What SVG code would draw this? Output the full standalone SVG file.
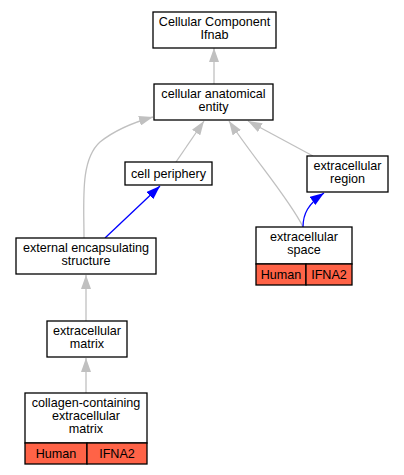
<svg xmlns="http://www.w3.org/2000/svg" width="404" height="475" viewBox="0 0 404 475">
<defs>
<marker id="ag" viewBox="0 0 14 10" refX="14" refY="5" markerWidth="14" markerHeight="10" markerUnits="userSpaceOnUse" orient="auto"><path d="M0,0 L14,5 L0,10 z" fill="#c0c0c0"/></marker>
<marker id="ab" viewBox="0 0 14 10" refX="14" refY="5" markerWidth="14" markerHeight="10" markerUnits="userSpaceOnUse" orient="auto"><path d="M0,0 L14,5 L0,10 z" fill="#0000ff"/></marker>
</defs>
<style>
.box{fill:#fff;stroke:#000;stroke-width:1.3}
.red{fill:#ff6347;stroke:#000;stroke-width:1.3}
text{font-family:"Liberation Sans",Arial,sans-serif;font-size:12.6px;text-anchor:middle;fill:#000}
.g{fill:none;stroke:#c0c0c0;stroke-width:1.3}
.b{fill:none;stroke:#0000ff;stroke-width:1.3}
</style>
<rect width="404" height="475" fill="#fff"/>
<g id="edges">
<path class="g" d="M214,84 L214,48" marker-end="url(#ag)"/>
<path class="g" d="M176,162 L204,121" marker-end="url(#ag)"/>
<path class="g" d="M84,238 C84,200 80,160 100,142 C115,130 135,122 153,117" marker-end="url(#ag)"/>
<path class="g" d="M303,227 C290,200 255,160 229,121" marker-end="url(#ag)"/>
<path class="g" d="M313,156 L248,121" marker-end="url(#ag)"/>
<path class="b" d="M105,238 L160,186" marker-end="url(#ab)"/>
<path class="b" d="M303,227 C303,214 308,204 324,193" marker-end="url(#ab)"/>
<path class="g" d="M86,321 L86,275" marker-end="url(#ag)"/>
<path class="g" d="M86,393 L86,358" marker-end="url(#ag)"/>
</g>
<g id="n_cc">
<rect class="box" x="153" y="12" width="123" height="36"/>
<text x="214.5" y="26">Cellular Component</text>
<text x="214.5" y="39">Ifnab</text>
</g>
<g id="n_cae">
<rect class="box" x="154" y="84" width="119" height="36"/>
<text x="213.5" y="98">cellular anatomical</text>
<text x="213.5" y="111">entity</text>
</g>
<g id="n_cp">
<rect class="box" x="125" y="162" width="87" height="23"/>
<text x="168.5" y="178">cell periphery</text>
</g>
<g id="n_er">
<rect class="box" x="307" y="156" width="81" height="36"/>
<text x="347.5" y="170">extracellular</text>
<text x="347.5" y="183">region</text>
</g>
<g id="n_es">
<rect class="box" x="256" y="227" width="96" height="37"/>
<text x="304" y="241">extracellular</text>
<text x="304" y="254">space</text>
<rect class="red" x="256" y="264" width="50" height="21"/>
<rect class="red" x="306" y="264" width="46" height="21"/>
<text x="281" y="279">Human</text>
<text x="329" y="279">IFNA2</text>
</g>
<g id="n_ees">
<rect class="box" x="16" y="238" width="140" height="36"/>
<text x="86" y="252">external encapsulating</text>
<text x="86" y="265">structure</text>
</g>
<g id="n_em">
<rect class="box" x="47" y="321" width="80" height="36"/>
<text x="87" y="335">extracellular</text>
<text x="87" y="348">matrix</text>
</g>
<g id="n_ccem">
<rect class="box" x="25" y="393" width="122" height="50"/>
<text x="86" y="407">collagen-containing</text>
<text x="86" y="420">extracellular</text>
<text x="86" y="433">matrix</text>
<rect class="red" x="25" y="443" width="62" height="21"/>
<rect class="red" x="87" y="443" width="60" height="21"/>
<text x="56" y="458">Human</text>
<text x="117" y="458">IFNA2</text>
</g>
</svg>
